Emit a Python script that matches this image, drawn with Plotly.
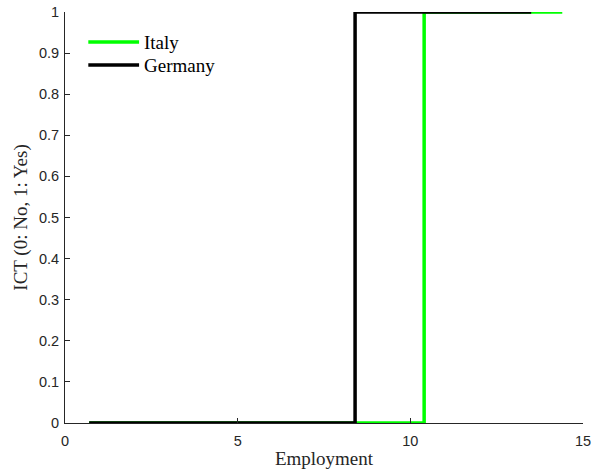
import plotly.graph_objects as go

# Step profiles of ICT adoption against employment
italy_x = [0.7, 10.4, 14.4]
italy_y = [0, 1, 1]
germany_x = [0.7, 8.4, 13.5]
germany_y = [0, 1, 1]

series = [
    ("Italy", italy_x, italy_y, "#00ff00"),
    ("Germany", germany_x, germany_y, "#000000"),
]

x_ticks = [0, 5, 10, 15]
y_ticks = [0, 0.1, 0.2, 0.3, 0.4, 0.5, 0.6, 0.7, 0.8, 0.9, 1]

tick_font = dict(family="Liberation Sans, Arial, sans-serif", size=14.5, color="#262626")
serif = "Liberation Serif, Times New Roman, serif"

fig = go.Figure()
for name, xs, ys, color in series:
    fig.add_trace(go.Scatter(x=xs, y=ys, mode="lines", name=name, cliponaxis=False,
                             line=dict(color=color, width=3.5, shape="hv"),
                             showlegend=False))

# Legend drawn in paper coordinates, top-left inside the axes
legend_y = [0.927, 0.871]
for (name, _, _, color), ly in zip(series, legend_y):
    fig.add_shape(type="line", xref="paper", yref="paper", x0=0.045, x1=0.143,
                  y0=ly, y1=ly, line=dict(color=color, width=3.5))
    fig.add_annotation(xref="paper", yref="paper", x=0.149, y=ly, text=name,
                       showarrow=False, xanchor="left", yanchor="middle",
                       font=dict(family=serif, size=19, color="#000"))

fig.update_layout(
    width=592, height=473,
    margin=dict(l=64.5, r=9, t=12, b=50),
    plot_bgcolor="white", paper_bgcolor="white",
    showlegend=False,
    xaxis=dict(range=[0, 15], tickvals=x_ticks, ticktext=[str(v) for v in x_ticks],
               showgrid=False, zeroline=False, showline=True, linecolor="#262626",
               linewidth=1, ticks="inside", ticklen=5, tickcolor="#262626",
               tickfont=tick_font, ticklabelstandoff=5, automargin=False,
               title=dict(text="Employment", font=dict(family=serif, size=19, color="#262626"),
                          standoff=3)),
    yaxis=dict(range=[0, 1], tickvals=y_ticks, ticktext=[f"{v:g}" for v in y_ticks],
               showgrid=False, zeroline=False, showline=True, linecolor="#262626",
               linewidth=1, ticks="inside", ticklen=5, tickcolor="#262626",
               tickfont=tick_font, ticklabelstandoff=2, automargin=False,
               title=dict(text="ICT (0: No, 1: Yes)", font=dict(family=serif, size=19, color="#262626"),
                          standoff=6)),
)

fig.write_html("out.html")
